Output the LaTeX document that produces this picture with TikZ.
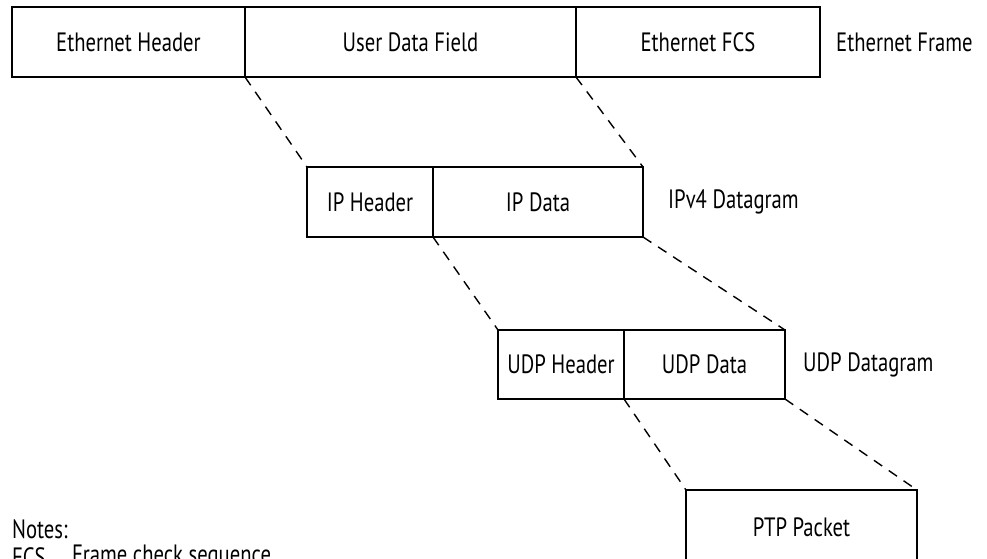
\documentclass[tikz,border=0pt]{standalone}
\usepackage{fontspec}
\setmainfont[FakeStretch=0.78]{PT Sans}
\usetikzlibrary{positioning}
\tikzset{field/.style = {draw, line width=1.2pt, minimum height=70pt, inner sep=0pt,
                         outer sep=0pt, font=\fontsize{26.5}{29}\selectfont},
         caption/.style = {inner sep=0pt, anchor=west, font=\fontsize{26.5}{29}\selectfont},
         divider/.style = {line width=2.6pt},
         spread/.style = {line width=1.4pt, dash pattern=on 10pt off 8pt}}

\begin{document}
\begin{tikzpicture}[x=1pt,y=-1pt]
		\useasboundingbox (0,0) rectangle (987,558);
		\clip (0,0) rectangle (987,558);
		
		% Ethernet frame
		\node[field, minimum width=233pt, anchor=north west] (ethhdr) at (12,7) {Ethernet Header};
		\node[field, minimum width=331pt, right=0pt of ethhdr] (userdata) {User Data Field};
		\node[field, minimum width=244pt, right=0pt of userdata] (ethfcs) {Ethernet FCS};
		\node[caption, right=16pt of ethfcs] (ethlbl) {Ethernet Frame};
		
		% IPv4 datagram
		\node[field, minimum width=126pt, anchor=north west] (iphdr) at (307,167) {IP Header};
		\node[field, minimum width=210pt, right=0pt of iphdr] (ipdata) {IP Data};
		\node[caption, right=25pt of ipdata] (iplbl) {IPv4 Datagram};
		
		% UDP datagram
		\node[field, minimum width=126pt, minimum height=69pt, anchor=north west] (udphdr) at (498,330) {UDP Header};
		\node[field, minimum width=161pt, minimum height=69pt, right=0pt of udphdr] (udpdata) {UDP Data};
		\node[caption, right=18pt of udpdata] (udplbl) {UDP Datagram};
		
		% PTP packet
		\node[field, minimum width=231pt, minimum height=74pt, anchor=north west] (ptp) at (686,490) {PTP Packet};
		
		\draw[divider] (ethhdr.north east) -- (ethhdr.south east);
		\draw[divider] (userdata.north east) -- (userdata.south east);
		\draw[divider] (iphdr.north east) -- (iphdr.south east);
		\draw[divider] (udphdr.north east) -- (udphdr.south east);
		\draw[line width=2.2pt] (ptp.north west) -- (ptp.north east);
		
		\draw[spread] (userdata.south west) -- (iphdr.north west);
		\draw[spread] (userdata.south east) -- (ipdata.north east);
		\draw[spread] (ipdata.south west) -- (udphdr.north west);
		\draw[spread] (ipdata.south east) -- (udpdata.north east);
		\draw[spread] (udpdata.south west) -- (ptp.north west);
		\draw[spread] (udpdata.south east) -- (ptp.north east);
		
		% notes
		\node[caption] (notes) at (12,529) {Notes:};
		\node[caption] (fcs) at (12,557) {FCS};
		\node[caption] (fcsdef) at (72,557) {Frame check sequence};
		\end{tikzpicture}
\end{document}
